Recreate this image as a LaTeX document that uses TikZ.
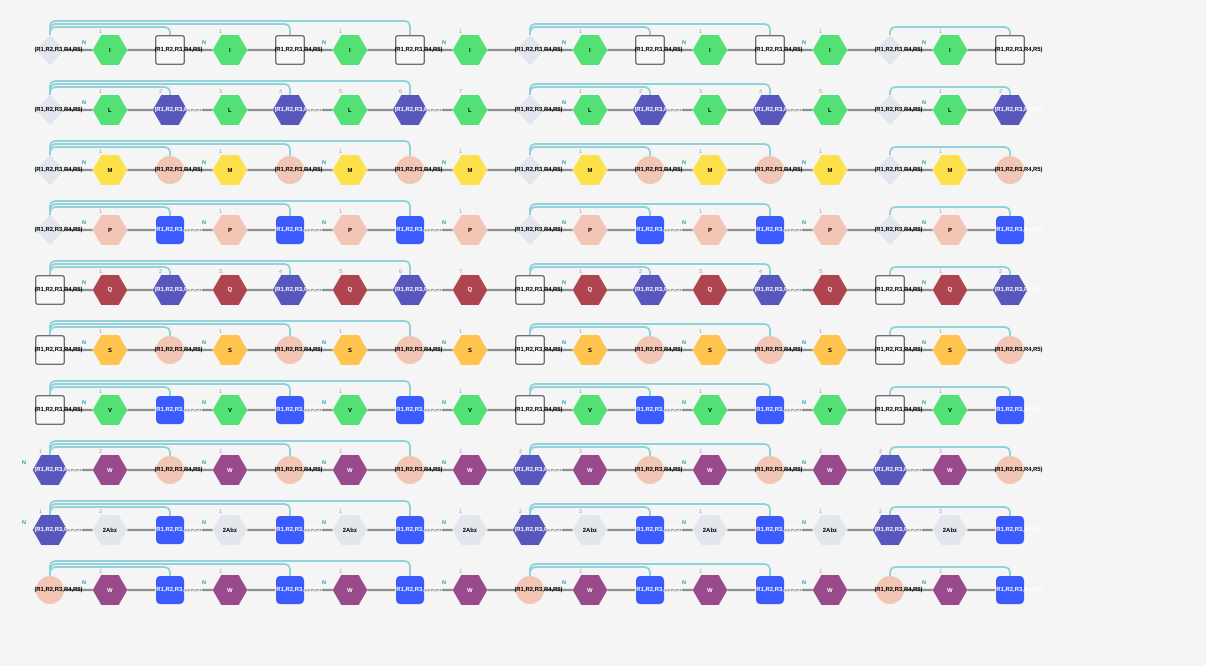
\documentclass[tikz,border=0pt]{standalone}
\usepackage{fontspec}
\setmainfont{Liberation Sans}
\usetikzlibrary{shapes.geometric,backgrounds}
\definecolor{cBg}{HTML}{F5F5F5}
\definecolor{cChain}{HTML}{8E8E8E}
\definecolor{cArc}{HTML}{92D2DA}
\definecolor{cGreen}{HTML}{53E175}
\definecolor{cDia}{HTML}{E1E6EE}
\definecolor{cSq}{HTML}{F8F8F9}
\definecolor{cSqB}{HTML}{6F6F6F}
\definecolor{cSal}{HTML}{F3C5B5}
\definecolor{cBlue}{HTML}{3B5BFE}
\definecolor{cPur}{HTML}{5757BE}
\definecolor{cYel}{HTML}{FDE14A}
\definecolor{cQ}{HTML}{AD4450}
\definecolor{cS}{HTML}{FFC34E}
\definecolor{cW}{HTML}{984A8C}
\definecolor{cAbz}{HTML}{E2E6ED}
\definecolor{cN}{HTML}{2B9CAE}
\definecolor{cNum}{HTML}{9A9A9A}
\newcommand\RR{(R1,R2,R3,R4,R5)}
\newcommand\ovl[1]{\makebox[0pt][l]{\hspace*{-15.5pt}\raisebox{-0.8pt}{#1}}}
\newcommand\LB{\ovl{\RR}}
\tikzset{
  base/.style={inner sep=0pt, outer sep=0pt, font=\bfseries\fontsize{5.9}{6}\selectfont},
  hexs/.style={base, regular polygon, regular polygon sides=6, minimum size=34.6pt, draw=none},
  hI/.style={hexs, fill=cGreen},
  hL/.style={hexs, fill=cGreen},
  hV/.style={hexs, fill=cGreen},
  hM/.style={hexs, fill=cYel},
  hP/.style={hexs, fill=cSal},
  hQ/.style={hexs, fill=cQ, text=white},
  hS/.style={hexs, fill=cS},
  hW/.style={hexs, fill=cW, text=white},
  hA/.style={hexs, fill=cAbz},
  pur/.style={hexs, fill=cPur, text=white},
  dia/.style={base, diamond, fill=cDia, minimum width=28pt, minimum height=30pt},
  sqw/.style={base, rectangle, rounded corners=1.5pt, fill=cSq, draw=cSqB, line width=1.3pt, minimum size=28.5pt},
  cir/.style={base, circle, fill=cSal, minimum size=28pt},
  blu/.style={base, rectangle, rounded corners=4pt, fill=cBlue, minimum size=28pt, text=white},
  numl/.style={inner sep=0pt, text=cNum, font=\fontsize{5.5}{5.5}\selectfont},
  nlab/.style={inner sep=0pt, text=cN, font=\bfseries\fontsize{5.5}{5.5}\selectfont},
  chain/.style={draw=cChain, line width=2.2pt},
  arcl/.style={draw=cArc, line width=1.8pt, rounded corners=5pt},
}
\newcommand\placerow[3]{%
  \foreach \s/\t/\n/\f [count=\c] in {#3} {
    \pgfmathsetmacro\xx{50+60*(\c-1)}
    \node[\s] (n#1-\c) at (\xx,#2) {\t};
    \ifnum\n>0 \node[numl] (num#1-\c) at (\xx-9.3,#2-18.3) {\n};\fi
    \ifnum\f=1 \node[nlab] (nn#1-\c) at (\xx-26,#2-7) {N};\fi
  }
}
\newcommand\linkrow[2]{%
  \foreach \c [evaluate=\c as \d using int(\c+1)] in {1,...,16} {
    \draw[chain] (n#1-\c) -- (n#1-\d);
  }
  \coordinate (la#1) at (0,#2-23);
  \coordinate (lb#1) at (0,#2-26);
  \coordinate (lc#1) at (0,#2-29);
  \draw[arcl] (n#1-1.north) |- (n#1-7.north |- lc#1) -- (n#1-7.north);
  \draw[arcl] (n#1-1.north) |- (n#1-5.north |- lb#1) -- (n#1-5.north);
  \draw[arcl] (n#1-1.north) |- (n#1-3.north |- la#1) -- (n#1-3.north);
  \draw[arcl] (n#1-9.north) |- (n#1-13.north |- lb#1) -- (n#1-13.north);
  \draw[arcl] (n#1-9.north) |- (n#1-11.north |- la#1) -- (n#1-11.north);
  \draw[arcl] (n#1-15.north) |- (n#1-17.north |- la#1) -- (n#1-17.north);
}
\begin{document}
\begin{tikzpicture}[x=1pt,y=-1pt]
\useasboundingbox (0,0) rectangle (1206,666);
\placerow{1}{50}{dia/\LB/0/0,hI/I/1/1,sqw/\LB/0/0,hI/I/1/1,sqw/\LB/0/0,hI/I/1/1,sqw/\LB/0/0,hI/I/1/1,dia/\LB/0/0,hI/I/1/1,sqw/\LB/0/0,hI/I/1/1,sqw/\LB/0/0,hI/I/1/1,dia/\LB/0/0,hI/I/1/1,sqw/\LB/0/0}
\placerow{2}{110}{dia/\LB/0/0,hL/L/1/1,pur/\LB/2/0,hL/L/3/0,pur/\LB/4/0,hL/L/5/0,pur/\LB/6/0,hL/L/7/0,dia/\LB/0/0,hL/L/1/1,pur/\LB/2/0,hL/L/3/0,pur/\LB/4/0,hL/L/5/0,dia/\LB/0/0,hL/L/1/1,pur/\LB/2/0}
\placerow{3}{170}{dia/\LB/0/0,hM/M/1/1,cir/\LB/0/0,hM/M/1/1,cir/\LB/0/0,hM/M/1/1,cir/\LB/0/0,hM/M/1/1,dia/\LB/0/0,hM/M/1/1,cir/\LB/0/0,hM/M/1/1,cir/\LB/0/0,hM/M/1/1,dia/\LB/0/0,hM/M/1/1,cir/\LB/0/0}
\placerow{4}{230}{dia/\LB/0/0,hP/P/1/1,blu/\LB/0/0,hP/P/1/1,blu/\LB/0/0,hP/P/1/1,blu/\LB/0/0,hP/P/1/1,dia/\LB/0/0,hP/P/1/1,blu/\LB/0/0,hP/P/1/1,blu/\LB/0/0,hP/P/1/1,dia/\LB/0/0,hP/P/1/1,blu/\LB/0/0}
\placerow{5}{290}{sqw/\LB/0/0,hQ/Q/1/1,pur/\LB/2/0,hQ/Q/3/0,pur/\LB/4/0,hQ/Q/5/0,pur/\LB/6/0,hQ/Q/7/0,sqw/\LB/0/0,hQ/Q/1/1,pur/\LB/2/0,hQ/Q/3/0,pur/\LB/4/0,hQ/Q/5/0,sqw/\LB/0/0,hQ/Q/1/1,pur/\LB/2/0}
\placerow{6}{350}{sqw/\LB/0/0,hS/S/1/1,cir/\LB/0/0,hS/S/1/1,cir/\LB/0/0,hS/S/1/1,cir/\LB/0/0,hS/S/1/1,sqw/\LB/0/0,hS/S/1/1,cir/\LB/0/0,hS/S/1/1,cir/\LB/0/0,hS/S/1/1,sqw/\LB/0/0,hS/S/1/1,cir/\LB/0/0}
\placerow{7}{410}{sqw/\LB/0/0,hV/V/1/1,blu/\LB/0/0,hV/V/1/1,blu/\LB/0/0,hV/V/1/1,blu/\LB/0/0,hV/V/1/1,sqw/\LB/0/0,hV/V/1/1,blu/\LB/0/0,hV/V/1/1,blu/\LB/0/0,hV/V/1/1,sqw/\LB/0/0,hV/V/1/1,blu/\LB/0/0}
\placerow{8}{470}{pur/\LB/1/1,hW/W/2/0,cir/\LB/0/0,hW/W/1/1,cir/\LB/0/0,hW/W/1/1,cir/\LB/0/0,hW/W/1/1,pur/\LB/2/0,hW/W/3/0,cir/\LB/0/0,hW/W/1/1,cir/\LB/0/0,hW/W/1/1,pur/\LB/2/0,hW/W/3/0,cir/\LB/0/0}
\placerow{9}{530}{pur/\LB/1/1,hA/2Abz/2/0,blu/\LB/0/0,hA/2Abz/1/1,blu/\LB/0/0,hA/2Abz/1/1,blu/\LB/0/0,hA/2Abz/1/1,pur/\LB/2/0,hA/2Abz/3/0,blu/\LB/0/0,hA/2Abz/1/1,blu/\LB/0/0,hA/2Abz/1/1,pur/\LB/2/0,hA/2Abz/3/0,blu/\LB/0/0}
\placerow{10}{590}{cir/\LB/0/0,hW/W/1/1,blu/\LB/0/0,hW/W/1/1,blu/\LB/0/0,hW/W/1/1,blu/\LB/0/0,hW/W/1/1,cir/\LB/0/0,hW/W/1/1,blu/\LB/0/0,hW/W/1/1,blu/\LB/0/0,hW/W/1/1,cir/\LB/0/0,hW/W/1/1,blu/\LB/0/0}
\begin{pgfonlayer}{background}
\fill[cBg] (0,0) rectangle (1206,666);
\linkrow{1}{50}
\linkrow{2}{110}
\linkrow{3}{170}
\linkrow{4}{230}
\linkrow{5}{290}
\linkrow{6}{350}
\linkrow{7}{410}
\linkrow{8}{470}
\linkrow{9}{530}
\linkrow{10}{590}
\end{pgfonlayer}
\end{tikzpicture}
\end{document}
